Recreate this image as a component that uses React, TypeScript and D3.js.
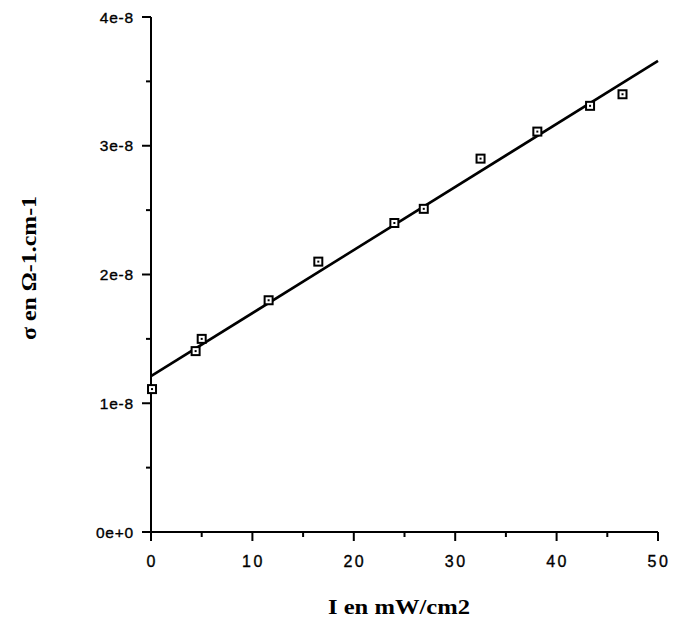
import React from "react";
import * as d3 from "d3";

const intensity = [0.1, 4.4, 5.0, 11.6, 16.5, 24.0, 26.9, 32.5, 38.1, 43.3, 46.5];
const conductivity = [1.11e-8, 1.405e-8, 1.5e-8, 1.8e-8, 2.1e-8, 2.4e-8, 2.51e-8, 2.9e-8, 3.11e-8, 3.31e-8, 3.4e-8];
const fitX = [0, 50];
const fitY = [1.21e-8, 3.66e-8];
const xTicks = [0, 10, 20, 30, 40, 50];
const xMinor = [5, 15, 25, 35, 45];
const yTicks = [0, 1e-8, 2e-8, 3e-8, 4e-8];
const yTickLabels = ["0e+0", "1e-8", "2e-8", "3e-8", "4e-8"];
const yMinor = [0.5e-8, 1.5e-8, 2.5e-8, 3.5e-8];
const xTitle = "I en mW/cm2";
const yTitle = "σ en Ω-1.cm-1";

export default function App() {
  const W = 674, H = 623;
  const x = d3.scaleLinear().domain([0, 50]).range([151, 658]);
  const y = d3.scaleLinear().domain([0, 4e-8]).range([532, 17]);
  const line = d3.line<number>().x((d, i) => x(fitX[i])).y((d) => y(d));
  const sans = "'Liberation Sans', Arial, sans-serif";
  const serif = "'Liberation Serif', 'Times New Roman', serif";
  return (
    <svg width={W} height={H} style={{ position: "fixed", left: 0, top: 0, background: "#fff" }}>
      <rect width={W} height={H} fill="#fff" />
      {/* axes */}
      <line x1={x(0)} x2={x(0)} y1={y(4e-8)} y2={541} stroke="#000" strokeWidth={2} />
      <line x1={142} x2={x(50)} y1={y(0)} y2={y(0)} stroke="#000" strokeWidth={2} />
      {yTicks.map((t, i) => (
        <g key={"yt" + i}>
          <line x1={142} x2={x(0)} y1={y(t)} y2={y(t)} stroke="#000" strokeWidth={2} />
          <text x={134} y={y(t) + 5.5} textAnchor="end" fontFamily={sans} fontSize={15.5} letterSpacing={0.8} stroke="#000" strokeWidth={0.35}>
            {yTickLabels[i]}
          </text>
        </g>
      ))}
      {yMinor.map((t, i) => (
        <line key={"ym" + i} x1={146} x2={x(0)} y1={y(t)} y2={y(t)} stroke="#000" strokeWidth={2} />
      ))}
      {xTicks.map((t, i) => (
        <g key={"xt" + i}>
          <line x1={x(t)} x2={x(t)} y1={y(0)} y2={541} stroke="#000" strokeWidth={2} />
          <text x={x(t) + (t === 0 ? 0 : 1)} y={567} textAnchor="middle" fontFamily={sans} fontSize={16} letterSpacing={t === 0 ? 0 : 2.5} stroke="#000" strokeWidth={0.35}>
            {String(t)}
          </text>
        </g>
      ))}
      {xMinor.map((t, i) => (
        <line key={"xm" + i} x1={x(t)} x2={x(t)} y1={y(0)} y2={537} stroke="#000" strokeWidth={2} />
      ))}
      {/* fit line */}
      <path d={line(fitY) || ""} fill="none" stroke="#000" strokeWidth={2.6} />
      {/* points */}
      {intensity.map((v, i) => (
        <g key={"p" + i}>
          <rect x={x(v) - 4} y={y(conductivity[i]) - 4} width={8} height={8} fill="#fff" stroke="#000" strokeWidth={2} />
          <rect x={x(v) - 1} y={y(conductivity[i]) - 1} width={2} height={2} fill="#000" />
        </g>
      ))}
      {/* titles */}
      <text x={399} y={614} textAnchor="middle" fontFamily={serif} fontWeight="bold" fontSize={22} textLength={142} lengthAdjust="spacingAndGlyphs">
        {xTitle}
      </text>
      <text transform="translate(36,268) rotate(-90)" textAnchor="middle" fontFamily={serif} fontWeight="bold" fontSize={22} textLength={144} lengthAdjust="spacingAndGlyphs">
        {yTitle}
      </text>
    </svg>
  );
}
